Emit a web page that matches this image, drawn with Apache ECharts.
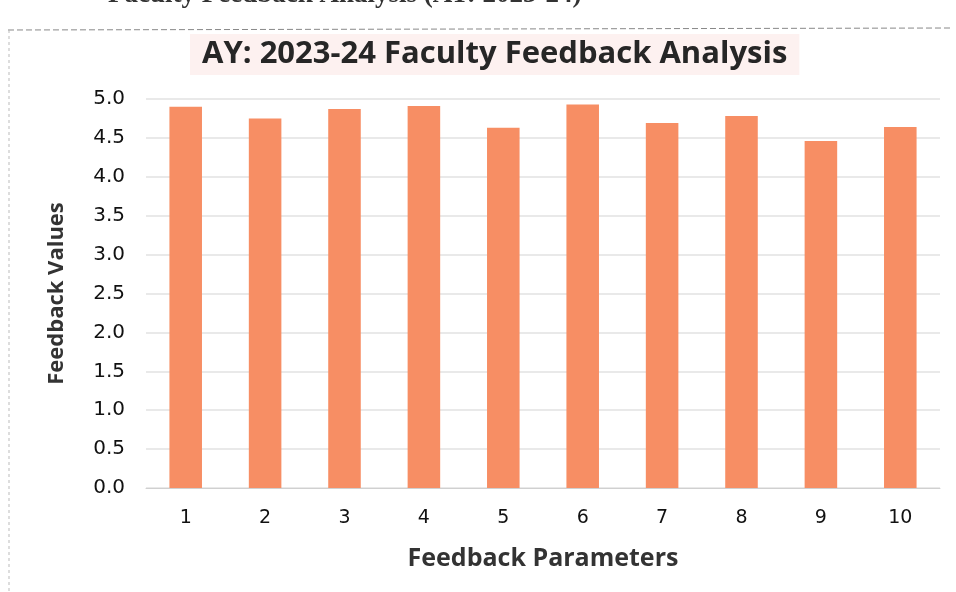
<!DOCTYPE html>
<html>
<head>
<meta charset="utf-8">
<script src="https://cdn.jsdelivr.net/npm/echarts@6/dist/echarts.min.js"></script>
<style>
  html, body { margin: 0; padding: 0; background: #fff; }
  #chart { width: 956px; height: 592px; }
</style>
</head>
<body>
<div id="chart"></div>
<script>
// values
var parameters = ['1', '2', '3', '4', '5', '6', '7', '8', '9', '10'];
var feedbackValues = [4.90, 4.75, 4.87, 4.91, 4.63, 4.93, 4.69, 4.78, 4.46, 4.64];
var yTicks = { min: 0, max: 5, interval: 0.5 };

var chartTitle = 'AY: 2023-24 Faculty Feedback Analysis';
var pageHeading = 'Faculty Feedback Analysis (AY: 2023-24)';

var myChart = echarts.init(document.getElementById('chart'));

var option = {
    backgroundColor: '#fff',
    animation: false,
    title: {
        text: chartTitle,
        left: 190,
        top: 34,
        padding: [5, 12],
        backgroundColor: '#fdf1f0',
        textStyle: {
            fontFamily: 'Open Sans',
            fontWeight: 'bold',
            fontSize: 31,
            color: '#262626'
        }
    },
    graphic: [
        {
            // cropped page heading above the chart frame
            type: 'text',
            left: 108,
            top: -18,
            style: {
                text: pageHeading,
                font: 'bold 27px "Liberation Serif"',
                fill: '#333'
            }
        },
        {
            type: 'line',
            shape: { x1: 8, y1: 30, x2: 950, y2: 28 },
            style: { stroke: '#888', lineWidth: 1, lineDash: [6, 3] }
        },
        {
            type: 'line',
            shape: { x1: 9, y1: 30, x2: 9, y2: 592 },
            style: { stroke: '#bbb', lineWidth: 1, lineDash: [3, 3] }
        }
    ],
    grid: {
        left: 146,
        right: 16,
        top: 99,
        bottom: 104
    },
    xAxis: {
        type: 'category',
        data: parameters,
        name: 'Feedback Parameters',
        nameLocation: 'middle',
        nameGap: 58,
        nameTextStyle: {
            fontFamily: 'Open Sans',
            fontWeight: 'bold',
            fontSize: 25,
            color: '#333'
        },
        axisLine: { lineStyle: { color: '#d0d0d0' } },
        axisTick: { show: false },
        axisLabel: {
            margin: 21,
            fontFamily: 'DejaVu Sans',
            fontSize: 19,
            color: '#111'
        }
    },
    yAxis: {
        type: 'value',
        min: yTicks.min,
        max: yTicks.max,
        interval: yTicks.interval,
        name: 'Feedback Values',
        nameLocation: 'middle',
        nameGap: 78,
        nameTextStyle: {
            fontFamily: 'Open Sans',
            fontWeight: 'bold',
            fontSize: 22,
            color: '#333'
        },
        axisLine: { show: false },
        axisTick: { show: false },
        axisLabel: {
            margin: 21,
            fontFamily: 'DejaVu Sans',
            fontSize: 20,
            color: '#111',
            formatter: function (v) { return v.toFixed(1); }
        },
        splitLine: { lineStyle: { color: '#e2e2e2', width: 1.5 } }
    },
    series: [
        {
            type: 'bar',
            data: feedbackValues,
            barWidth: '41%',
            itemStyle: { color: '#f78e64' }
        }
    ]
};

myChart.setOption(option);
</script>
</body>
</html>
